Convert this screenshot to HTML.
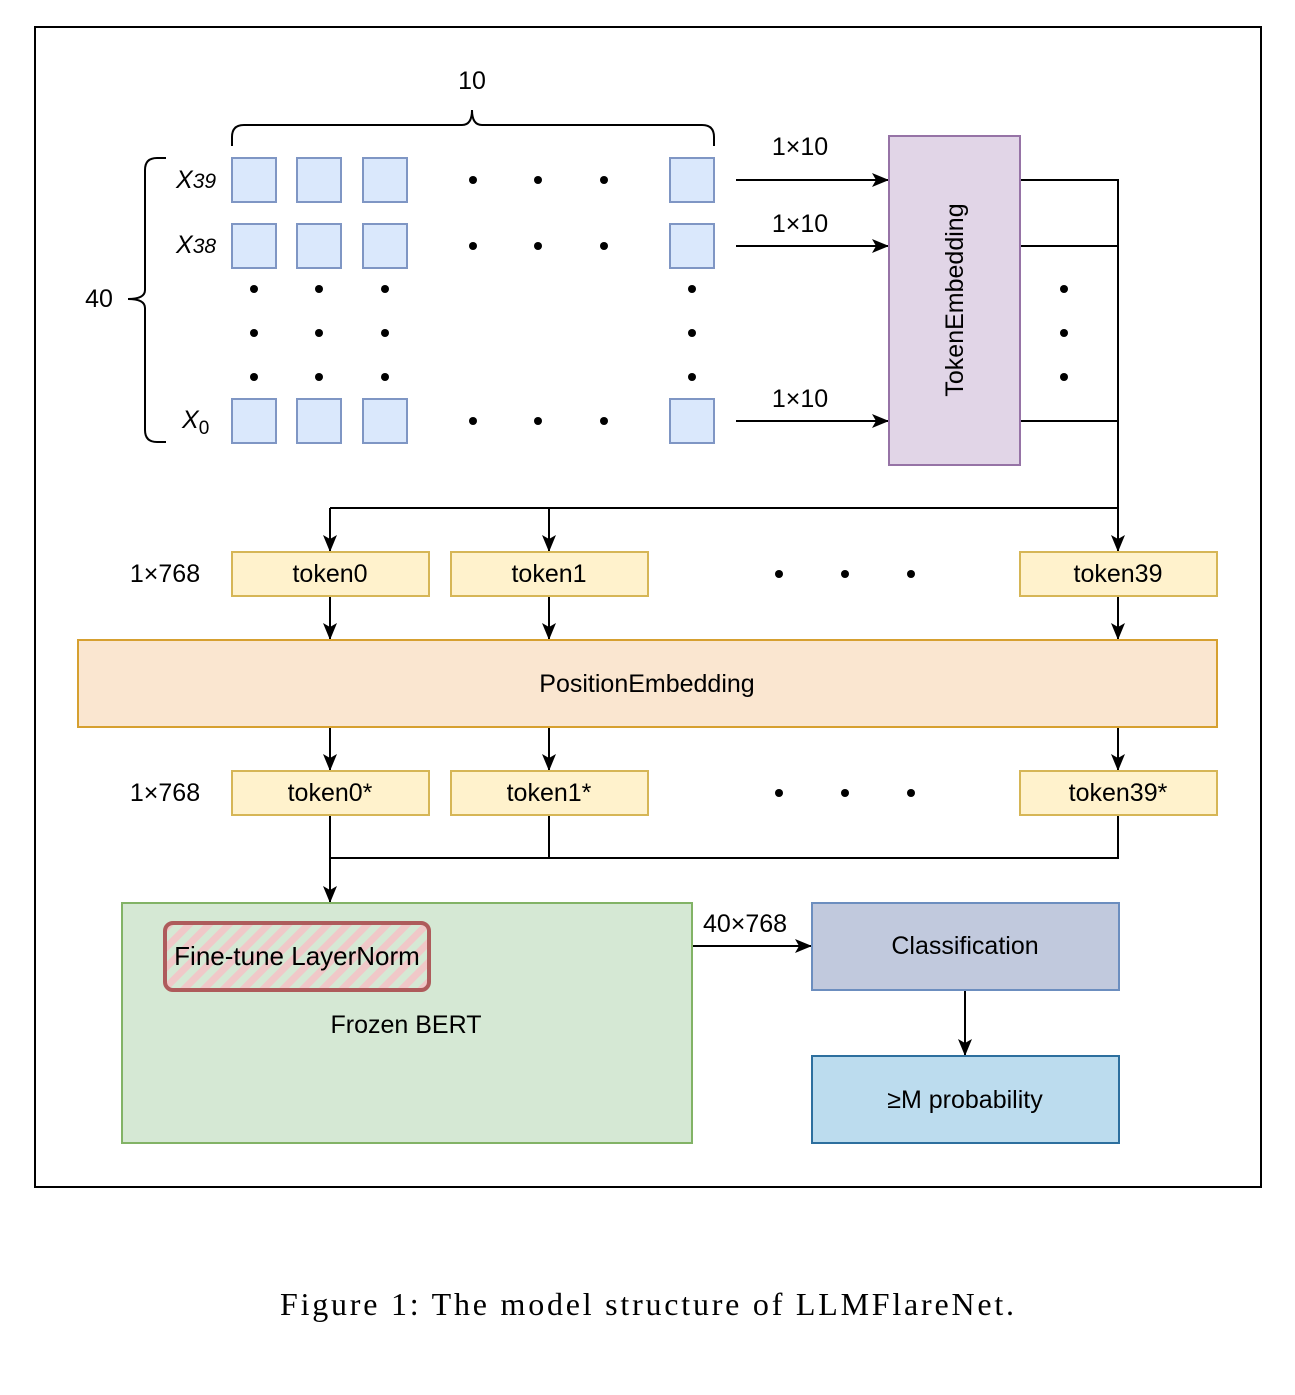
<!DOCTYPE html>
<html><head><meta charset="utf-8"><style>
html,body{margin:0;padding:0;background:#fff;}
svg{display:block;}
text{font-family:"Liberation Sans",Arial,sans-serif;fill:#000;}
</style></head><body>
<svg width="1295" height="1395" viewBox="0 0 1295 1395" xmlns="http://www.w3.org/2000/svg">
<defs>
<marker id="a" markerWidth="17" markerHeight="14" refX="16" refY="7" orient="auto" markerUnits="userSpaceOnUse">
<path d="M0,0 L17,7 L0,14 L4,7 Z" fill="#000"/>
</marker>
<pattern id="h" width="14" height="14" patternUnits="userSpaceOnUse" patternTransform="rotate(45)">
<rect width="14" height="14" fill="#d5e8d4"/><rect width="7" height="14" fill="#f0c8c8"/>
</pattern>
</defs>
<rect x="35" y="27" width="1226" height="1160" fill="#fff" stroke="#000" stroke-width="2"/>

<path d="M232,146 V137 Q232,125 244,125 H462 Q472,125 472,110 Q472,125 482,125 H702 Q714,125 714,137 V146" fill="none" stroke="#000" stroke-width="2"/>
<text x="472" y="89" font-size="25" text-anchor="middle">10</text>
<path d="M166,158 H157 Q145,158 145,170 V290 Q145,299 128,299 Q145,299 145,308 V430 Q145,442 157,442 H166" fill="none" stroke="#000" stroke-width="2"/>
<text x="99" y="307" font-size="25" text-anchor="middle">40</text>

<text x="176" y="188" font-size="25" font-style="italic">X<tspan font-size="21">39</tspan></text>
<text x="176" y="253" font-size="25" font-style="italic">X<tspan font-size="21">38</tspan></text>
<text x="182" y="428" font-size="25" font-style="italic">X<tspan font-size="19" font-style="normal" dy="6">0</tspan></text>

<g fill="#dae8fc" stroke="#7f96c4" stroke-width="2">
<rect x="232" y="158" width="44" height="44"/><rect x="297" y="158" width="44" height="44"/><rect x="363" y="158" width="44" height="44"/><rect x="670" y="158" width="44" height="44"/>
<rect x="232" y="224" width="44" height="44"/><rect x="297" y="224" width="44" height="44"/><rect x="363" y="224" width="44" height="44"/><rect x="670" y="224" width="44" height="44"/>
<rect x="232" y="399" width="44" height="44"/><rect x="297" y="399" width="44" height="44"/><rect x="363" y="399" width="44" height="44"/><rect x="670" y="399" width="44" height="44"/>
</g>
<g fill="#000">
<circle cx="473" cy="180" r="4"/><circle cx="538" cy="180" r="4"/><circle cx="604" cy="180" r="4"/>
<circle cx="473" cy="246" r="4"/><circle cx="538" cy="246" r="4"/><circle cx="604" cy="246" r="4"/>
<circle cx="473" cy="421" r="4"/><circle cx="538" cy="421" r="4"/><circle cx="604" cy="421" r="4"/>
<circle cx="254" cy="289" r="4"/><circle cx="319" cy="289" r="4"/><circle cx="385" cy="289" r="4"/><circle cx="692" cy="289" r="4"/>
<circle cx="254" cy="333" r="4"/><circle cx="319" cy="333" r="4"/><circle cx="385" cy="333" r="4"/><circle cx="692" cy="333" r="4"/>
<circle cx="254" cy="377" r="4"/><circle cx="319" cy="377" r="4"/><circle cx="385" cy="377" r="4"/><circle cx="692" cy="377" r="4"/>
<circle cx="1064" cy="289" r="4"/><circle cx="1064" cy="333" r="4"/><circle cx="1064" cy="377" r="4"/>
<circle cx="779" cy="574" r="4"/><circle cx="845" cy="574" r="4"/><circle cx="911" cy="574" r="4"/>
<circle cx="779" cy="793" r="4"/><circle cx="845" cy="793" r="4"/><circle cx="911" cy="793" r="4"/>
</g>

<g stroke="#000" stroke-width="2" fill="none">
<line x1="736" y1="180" x2="888" y2="180" marker-end="url(#a)"/>
<line x1="736" y1="246" x2="888" y2="246" marker-end="url(#a)"/>
<line x1="736" y1="421" x2="888" y2="421" marker-end="url(#a)"/>
<path d="M1020,180 H1118 V508"/><path d="M1020,246 H1118"/><path d="M1020,421 H1118"/>
<path d="M1118,508 H330"/>
<line x1="330" y1="508" x2="330" y2="551" marker-end="url(#a)"/>
<line x1="549" y1="508" x2="549" y2="551" marker-end="url(#a)"/>
<line x1="1118" y1="508" x2="1118" y2="551" marker-end="url(#a)"/>
<line x1="330" y1="596" x2="330" y2="639" marker-end="url(#a)"/>
<line x1="549" y1="596" x2="549" y2="639" marker-end="url(#a)"/>
<line x1="1118" y1="596" x2="1118" y2="639" marker-end="url(#a)"/>
<line x1="330" y1="727" x2="330" y2="770" marker-end="url(#a)"/>
<line x1="549" y1="727" x2="549" y2="770" marker-end="url(#a)"/>
<line x1="1118" y1="727" x2="1118" y2="770" marker-end="url(#a)"/>
<path d="M549,815 V858 H1118 V815"/><path d="M330,858 H549"/>
<line x1="330" y1="815" x2="330" y2="902" marker-end="url(#a)"/>
<line x1="692" y1="946" x2="811" y2="946" marker-end="url(#a)"/>
<line x1="965" y1="990" x2="965" y2="1055" marker-end="url(#a)"/>
</g>
<text x="800" y="155" font-size="25" text-anchor="middle">1×10</text>
<text x="800" y="232" font-size="25" text-anchor="middle">1×10</text>
<text x="800" y="407" font-size="25" text-anchor="middle">1×10</text>

<rect x="889" y="136" width="131" height="329" fill="#e1d5e7" stroke="#9673a6" stroke-width="2"/>
<text transform="translate(963,300) rotate(-90)" font-size="25" text-anchor="middle">TokenEmbedding</text>

<text x="165" y="582" font-size="25" text-anchor="middle">1×768</text>
<text x="165" y="801" font-size="25" text-anchor="middle">1×768</text>
<g fill="#fff2cc" stroke="#d6b656" stroke-width="2">
<rect x="232" y="552" width="197" height="44"/><rect x="451" y="552" width="197" height="44"/><rect x="1020" y="552" width="197" height="44"/>
<rect x="232" y="771" width="197" height="44"/><rect x="451" y="771" width="197" height="44"/><rect x="1020" y="771" width="197" height="44"/>
</g>
<g font-size="25" text-anchor="middle">
<text x="330" y="582">token0</text><text x="549" y="582">token1</text><text x="1118" y="582">token39</text>
<text x="330" y="801">token0*</text><text x="549" y="801">token1*</text><text x="1118" y="801">token39*</text>
</g>
<rect x="78" y="640" width="1139" height="87" fill="#fae6d0" stroke="#d6a030" stroke-width="2"/>
<text x="647" y="692" font-size="25" text-anchor="middle">PositionEmbedding</text>

<rect x="122" y="903" width="570" height="240" fill="#d5e8d4" stroke="#82b366" stroke-width="2"/>
<rect x="165" y="923" width="264" height="67" rx="8" fill="url(#h)" stroke="#ae5b5b" stroke-width="4"/>
<text x="297" y="965" font-size="26" text-anchor="middle">Fine-tune LayerNorm</text>
<text x="406" y="1033" font-size="25" text-anchor="middle">Frozen BERT</text>
<text x="745" y="932" font-size="25" text-anchor="middle">40×768</text>

<rect x="812" y="903" width="307" height="87" fill="#c1c9dd" stroke="#6c8ebf" stroke-width="2"/>
<text x="965" y="954" font-size="25" text-anchor="middle">Classification</text>
<rect x="812" y="1056" width="307" height="87" fill="#bcdcee" stroke="#2d6f9e" stroke-width="2"/>
<text x="965" y="1108" font-size="25" text-anchor="middle">≥M probability</text>

<text x="280" y="1315" font-size="32" textLength="734" lengthAdjust="spacing" style="font-family:'Liberation Serif',serif">Figure  1: The model structure of LLMFlareNet.</text>
</svg>
</body></html>
